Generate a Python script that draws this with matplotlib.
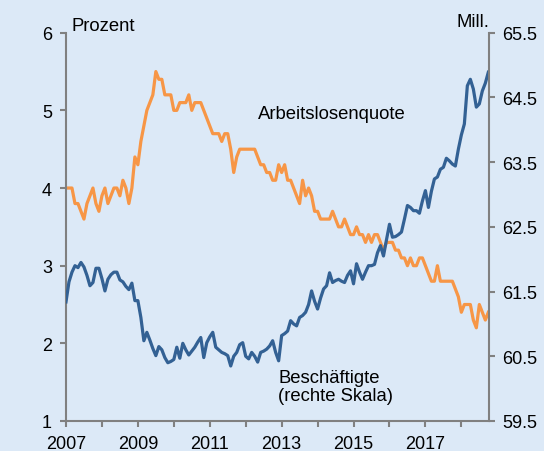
import matplotlib
matplotlib.use('Agg')
import matplotlib.pyplot as plt
import numpy as np

# Monthly values, Jan 2007 .. Oct 2018
start_year = 2007
arbeitslosenquote = [
    4.0, 4.0, 4.0, 3.8, 3.8, 3.7, 3.6, 3.8, 3.9, 4.0, 3.8, 3.7,
    3.9, 4.0, 3.8, 3.9, 4.0, 4.0, 3.9, 4.1, 4.0, 3.8, 4.0, 4.4,
    4.3, 4.6, 4.8, 5.0, 5.1, 5.2, 5.5, 5.4, 5.4, 5.2, 5.2, 5.2,
    5.0, 5.0, 5.1, 5.1, 5.1, 5.2, 5.0, 5.1, 5.1, 5.1, 5.0, 4.9,
    4.8, 4.7, 4.7, 4.7, 4.6, 4.7, 4.7, 4.5, 4.2, 4.4, 4.5, 4.5,
    4.5, 4.5, 4.5, 4.5, 4.4, 4.3, 4.3, 4.2, 4.2, 4.1, 4.1, 4.3,
    4.2, 4.3, 4.1, 4.1, 4.0, 3.9, 3.8, 4.1, 3.9, 4.0, 3.9, 3.7,
    3.7, 3.6, 3.6, 3.6, 3.6, 3.7, 3.6, 3.5, 3.5, 3.6, 3.5, 3.4,
    3.4, 3.5, 3.4, 3.4, 3.3, 3.4, 3.3, 3.4, 3.4, 3.3, 3.2, 3.3,
    3.3, 3.3, 3.2, 3.2, 3.1, 3.1, 3.0, 3.1, 3.0, 3.0, 3.1, 3.1,
    3.0, 2.9, 2.8, 2.8, 3.0, 2.8, 2.8, 2.8, 2.8, 2.8, 2.7, 2.6,
    2.4, 2.5, 2.5, 2.5, 2.3, 2.2, 2.5, 2.4, 2.3, 2.4,
]
beschaeftigte = [
    61.34, 61.65, 61.80, 61.90, 61.87, 61.95, 61.88, 61.75, 61.59, 61.64, 61.86, 61.86,
    61.70, 61.51, 61.69, 61.76, 61.80, 61.80, 61.68, 61.65, 61.58, 61.53, 61.63, 61.36,
    61.36, 61.10, 60.74, 60.87, 60.75, 60.62, 60.51, 60.65, 60.60, 60.48, 60.40, 60.42,
    60.45, 60.64, 60.47, 60.70, 60.60, 60.52, 60.58, 60.64, 60.72, 60.79, 60.48, 60.71,
    60.80, 60.87, 60.64, 60.60, 60.56, 60.54, 60.51, 60.35, 60.50, 60.56, 60.68, 60.71,
    60.50, 60.46, 60.56, 60.50, 60.41, 60.56, 60.58, 60.61, 60.66, 60.74, 60.56, 60.43,
    60.82, 60.85, 60.89, 61.05, 61.00, 60.97, 61.10, 61.13, 61.18, 61.30, 61.51, 61.35,
    61.23, 61.40, 61.54, 61.59, 61.79, 61.64, 61.67, 61.69, 61.66, 61.64, 61.75, 61.82,
    61.62, 61.93, 61.80, 61.69, 61.80, 61.90, 61.90, 61.92, 62.10, 62.21, 62.05, 62.30,
    62.54, 62.34, 62.35, 62.38, 62.42, 62.62, 62.83, 62.80, 62.75, 62.75, 62.71, 62.90,
    63.06, 62.80, 63.05, 63.24, 63.27, 63.39, 63.42, 63.56, 63.52, 63.47, 63.44, 63.70,
    63.92, 64.09, 64.68, 64.78, 64.63, 64.35, 64.40, 64.60, 64.72, 64.89,
]
left_ticks = [1, 2, 3, 4, 5, 6]
right_ticks = [59.5, 60.5, 61.5, 62.5, 63.5, 64.5, 65.5]
year_ticks = list(range(2007, 2019))
year_labels = [str(y) if y % 2 == 1 else '' for y in year_ticks]

plt.rcParams['font.family'] = ['Liberation Sans', 'DejaVu Sans']
bg = '#dce9f7'
grey = '#808080'

x = start_year + np.arange(len(arbeitslosenquote)) / 12.0

fig = plt.figure(figsize=(5.44, 4.52), dpi=100, facecolor=bg)
ax = fig.add_axes([0.1213, 0.0664, 0.777, 0.859])
ax.set_facecolor(bg)
ax2 = ax.twinx()

ax.plot(x, arbeitslosenquote, color='#f79646', lw=2.3, solid_joinstyle='round')
ax2.plot(x, beschaeftigte, color='#336194', lw=2.3, solid_joinstyle='round')

ax.set_ylim(1, 6)
ax2.set_ylim(59.5, 65.5)
ax.set_xlim(2007, x[-1] + 0.01)
ax.set_yticks(left_ticks)
ax2.set_yticks(right_ticks)
ax2.set_yticklabels([f'{v:.1f}' for v in right_ticks])
ax.set_xticks(year_ticks)
ax.set_xticklabels(year_labels)

for a in (ax, ax2):
    a.spines['top'].set_visible(False)
    for s in ('left', 'bottom', 'right'):
        a.spines[s].set_color(grey)
        a.spines[s].set_linewidth(1.5)
    a.tick_params(colors=grey, labelcolor='black', labelsize=13,
                  length=4, width=1.5, pad=6)
ax.spines['right'].set_visible(False)
ax2.spines['left'].set_visible(False)
ax2.spines['bottom'].set_visible(False)

fs = 13.3
fig.text(0.131, 0.942, 'Prozent', fontsize=fs, va='center', ha='left')
fig.text(0.899, 0.950, 'Mill.', fontsize=fs, va='center', ha='right')
ax.text(2012.33, 4.96, 'Arbeitslosenquote', fontsize=fs, va='center', ha='left')
ax.text(2012.9, 1.67, 'Beschäftigte\n(rechte Skala)', fontsize=fs,
        va='top', ha='left', linespacing=1.05)

fig.savefig('out.png', dpi=100, facecolor=bg)
